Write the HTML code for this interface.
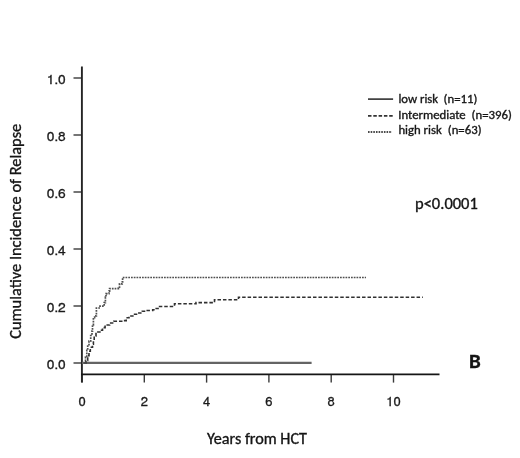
<!DOCTYPE html>
<html><head><meta charset="utf-8"><title>Cumulative Incidence of Relapse</title>
<style>
html,body{margin:0;padding:0;background:#fff;}
body{width:520px;height:458px;overflow:hidden;}
svg{display:block;filter:blur(0.3px);}
.c{font-family:"Carlito","Liberation Sans",sans-serif;fill:#151515;stroke:#151515;stroke-width:0.35px;}
.a{font-family:"FreeSans","Liberation Sans",Arial,sans-serif;fill:#1a1a1a;font-size:13px;stroke:#1a1a1a;stroke-width:0.3px;}
</style></head><body>
<svg width="520" height="458" viewBox="0 0 520 458">
<rect width="520" height="458" fill="#fff"/>
<g stroke="#3a3a3a" stroke-width="1.4" fill="none">
<line x1="73.5" y1="78.0" x2="82" y2="78.0"/>
<line x1="73.5" y1="135.0" x2="82" y2="135.0"/>
<line x1="73.5" y1="192.0" x2="82" y2="192.0"/>
<line x1="73.5" y1="249.0" x2="82" y2="249.0"/>
<line x1="73.5" y1="306.0" x2="82" y2="306.0"/>
<line x1="73.5" y1="363.0" x2="82" y2="363.0"/>
<line x1="82.0" y1="374.5" x2="82.0" y2="382.6"/>
<line x1="144.3" y1="374.5" x2="144.3" y2="382.6"/>
<line x1="206.6" y1="374.5" x2="206.6" y2="382.6"/>
<line x1="268.9" y1="374.5" x2="268.9" y2="382.6"/>
<line x1="331.2" y1="374.5" x2="331.2" y2="382.6"/>
<line x1="393.5" y1="374.5" x2="393.5" y2="382.6"/>
</g>
<line x1="81.9" y1="66.5" x2="81.9" y2="382.6" stroke="#252525" stroke-width="1.9"/>
<line x1="81" y1="374.4" x2="439.5" y2="374.4" stroke="#151515" stroke-width="1.6"/>
<line x1="82" y1="362.9" x2="311.6" y2="362.9" stroke="#646464" stroke-width="2.1"/>
<path d="M84.5,363.0 H85.9 V360.4 H87.7 V355.6 H89.0 V351.2 H90.3 V347.3 H92.5 V344.2 H93.4 V340.3 H94.2 V335.9 H96.0 V332.0 H99.9 V330.2 H102.5 V327.6 H105.1 V325.0 H109.6 V323.0 H113.8 V321.2 H122.8 V320.6 H126.2 V317.7 H129.0 V316.0 H133.7 V314.2 H137.7 V313.0 H142.3 V311.3 H145.8 V310.5 H152.7 V309.8 H156.2 V308.5 H159.6 V306.5 H174.5 V303.8 H196.0 V302.6 H214.5 V299.8 H238.5 V297.2 H422.8 V297.2" fill="none" stroke="#303030" stroke-width="1.6" stroke-dasharray="3.5 1.95"/>
<path d="M84.5,363.0 H85.5 V357.0 H86.8 V350.3 H87.7 V346.0 H89.0 V341.2 H90.7 V335.5 H92.0 V331.1 H92.5 V325.0 H93.4 V317.6 H94.6 V315.8 H96.4 V308.0 H100.0 V306.2 H104.2 V302.6 H105.4 V297.2 H106.0 V293.6 H109.0 V291.2 H109.6 V288.6 H118.4 V288.0 H119.5 V283.8 H122.2 V282.0 H122.6 V277.5 H366.0 V277.5" fill="none" stroke="#505050" stroke-width="1.7" stroke-dasharray="1.75 1.0"/>
<g class="a" text-anchor="end">
<text x="65.6" y="83.9" textLength="18.8" lengthAdjust="spacingAndGlyphs">1.0</text>
<text x="65.6" y="140.9" textLength="18.8" lengthAdjust="spacingAndGlyphs">0.8</text>
<text x="65.6" y="197.9" textLength="18.8" lengthAdjust="spacingAndGlyphs">0.6</text>
<text x="65.6" y="254.9" textLength="18.8" lengthAdjust="spacingAndGlyphs">0.4</text>
<text x="65.6" y="311.9" textLength="18.8" lengthAdjust="spacingAndGlyphs">0.2</text>
<text x="65.6" y="368.9" textLength="18.8" lengthAdjust="spacingAndGlyphs">0.0</text>
</g>
<g class="a" text-anchor="middle">
<text x="82.0" y="406">0</text>
<text x="144.3" y="406">2</text>
<text x="206.6" y="406">4</text>
<text x="268.9" y="406">6</text>
<text x="331.2" y="406">8</text>
<text x="393.5" y="406">10</text>
</g>
<g class="c">
<text x="207" y="443.8" font-size="16.2" textLength="100" lengthAdjust="spacingAndGlyphs">Years from HCT</text>
<text x="415" y="208.9" font-size="16.5" textLength="62.8" lengthAdjust="spacingAndGlyphs">p&lt;0.0001</text>
<text x="469" y="367.9" font-size="21" font-weight="bold" textLength="11.78" lengthAdjust="spacingAndGlyphs">B</text>
<text transform="translate(20.7,338.8) rotate(-90)" font-size="16.4" textLength="215" lengthAdjust="spacingAndGlyphs">Cumulative Incidence of Relapse</text>
<text x="398.4" y="103.1" font-size="12.75" textLength="39.77" lengthAdjust="spacingAndGlyphs">low risk</text>
<text x="443.6" y="103.1" font-size="12.75" textLength="33.72" lengthAdjust="spacingAndGlyphs">(n=11)</text>
<text x="398.3" y="118.5" font-size="12.75" textLength="67.34" lengthAdjust="spacingAndGlyphs">Intermediate</text>
<text x="471.6" y="118.5" font-size="12.75" textLength="40.17" lengthAdjust="spacingAndGlyphs">(n=396)</text>
<text x="398.4" y="133.6" font-size="12.75" textLength="43.38" lengthAdjust="spacingAndGlyphs">high risk</text>
<text x="447.8" y="133.6" font-size="12.75" textLength="33.72" lengthAdjust="spacingAndGlyphs">(n=63)</text>
</g>
<line x1="368" y1="99.1" x2="393.1" y2="99.1" stroke="#222" stroke-width="1.5"/>
<line x1="368" y1="115.9" x2="394" y2="115.9" stroke="#333" stroke-width="1.6" stroke-dasharray="3.5 1.8"/>
<line x1="368" y1="131.9" x2="392" y2="131.9" stroke="#4a4a4a" stroke-width="2" stroke-dasharray="1.6 1.05"/>
</svg>
</body></html>
